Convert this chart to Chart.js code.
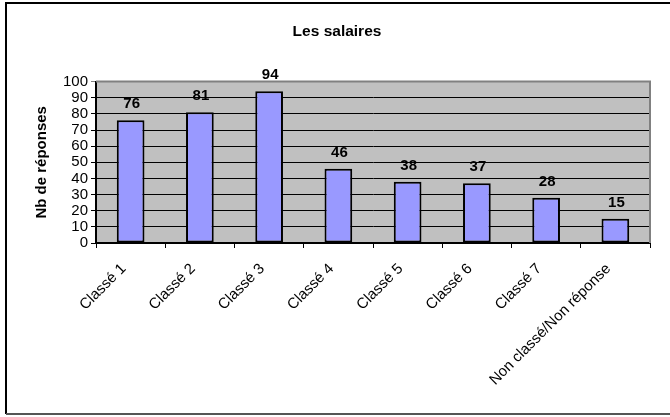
<!DOCTYPE html>
<html>
<head>
<meta charset="utf-8">
<script src="https://cdn.jsdelivr.net/npm/chart.js@4/dist/chart.umd.min.js"></script>
<style>
  html, body { margin: 0; padding: 0; background: #fff; }
  canvas { display: block; }
</style>
</head>
<body>
<canvas id="chart" width="670" height="417"></canvas>
<script>
// Survey answers per salary class
const categories = ['Classé 1', 'Classé 2', 'Classé 3', 'Classé 4', 'Classé 5', 'Classé 6', 'Classé 7', 'Non classé/Non réponse'];
const responses = [76, 81, 94, 46, 38, 37, 28, 15];
const yTicks = [0, 10, 20, 30, 40, 50, 60, 70, 80, 90, 100];

const FONT = '"Liberation Sans", Arial, sans-serif';

// Grey plot background, frame and outer border
const frame = {
  id: 'frame',
  beforeDraw(chart) {
    const { ctx, chartArea: a } = chart;
    ctx.save();
    ctx.fillStyle = '#C0C0C0';
    ctx.fillRect(a.left, a.top, a.right - a.left, a.bottom - a.top);
    ctx.restore();
  },
  afterDraw(chart) {
    const { ctx, chartArea: a } = chart;
    ctx.save();
    ctx.strokeStyle = '#808080';
    ctx.lineWidth = 2;
    ctx.beginPath();
    ctx.moveTo(a.left, a.top);
    ctx.lineTo(a.right, a.top);
    ctx.lineTo(a.right, a.bottom);
    ctx.stroke();
    ctx.strokeStyle = '#000';
    ctx.lineWidth = 2;
    ctx.beginPath();
    ctx.moveTo(6, 414);
    ctx.lineTo(6, 3);
    ctx.lineTo(670, 3);
    ctx.stroke();
    ctx.strokeStyle = '#555';
    ctx.beginPath();
    ctx.moveTo(6, 414);
    ctx.lineTo(670, 414);
    ctx.stroke();
    ctx.restore();
  }
};

// Value written above each bar
const valueLabels = {
  id: 'valueLabels',
  afterDatasetsDraw(chart) {
    const { ctx } = chart;
    const meta = chart.getDatasetMeta(0);
    ctx.save();
    ctx.font = 'bold 15px ' + FONT;
    ctx.fillStyle = '#000';
    ctx.textAlign = 'center';
    ctx.textBaseline = 'alphabetic';
    meta.data.forEach((bar, i) => {
      ctx.fillText(String(responses[i]), bar.x + 1, bar.y - 12);
    });
    ctx.restore();
  }
};

new Chart(document.getElementById('chart'), {
  type: 'bar',
  data: {
    labels: categories,
    datasets: [{
      data: responses,
      backgroundColor: '#9999FF',
      borderColor: '#000',
      borderWidth: 2,
      borderSkipped: false,
      categoryPercentage: 1,
      barPercentage: 0.4
    }]
  },
  options: {
    responsive: false,
    animation: false,
    events: [],
    layout: { padding: { left: 24, top: 0, right: 20, bottom: 0 } },
    plugins: {
      legend: { display: false },
      tooltip: { enabled: false },
      title: {
        display: true,
        text: 'Les salaires',
        color: '#000',
        font: { family: FONT, size: 15.5, weight: 'bold', lineHeight: 1.2 },
        padding: { top: 22, bottom: 41 }
      }
    },
    scales: {
      x: {
        afterFit(scale) { scale.height = 174; },
        grid: {
          offset: true,
          drawOnChartArea: false,
          drawTicks: true,
          tickLength: 5,
          color: '#000',
          lineWidth: 1
        },
        border: { color: '#000', width: 2 },
        ticks: {
          color: '#000',
          font: { family: FONT, size: 15 },
          minRotation: 45,
          maxRotation: 45,
          autoSkip: false,
          padding: 12,
          labelOffset: -7
        }
      },
      y: {
        min: 0,
        max: 100,
        afterFit(scale) { scale.width = 72; },
        afterBuildTicks(scale) { scale.ticks = yTicks.map(v => ({ value: v })); },
        grid: {
          color: ctx => (ctx.tick && ctx.tick.value === 100 ? '#808080' : '#000'),
          lineWidth: 1,
          drawTicks: true,
          tickLength: 5
        },
        border: { color: '#000', width: 2 },
        ticks: {
          color: '#000',
          font: { family: FONT, size: 15 },
          padding: 3,
          autoSkip: false
        },
        title: {
          display: true,
          text: 'Nb de réponses',
          color: '#000',
          font: { family: FONT, size: 15, weight: 'bold', lineHeight: 1.2 },
          padding: { top: 9, bottom: 0 }
        }
      }
    }
  },
  plugins: [frame, valueLabels]
});
</script>
</body>
</html>
